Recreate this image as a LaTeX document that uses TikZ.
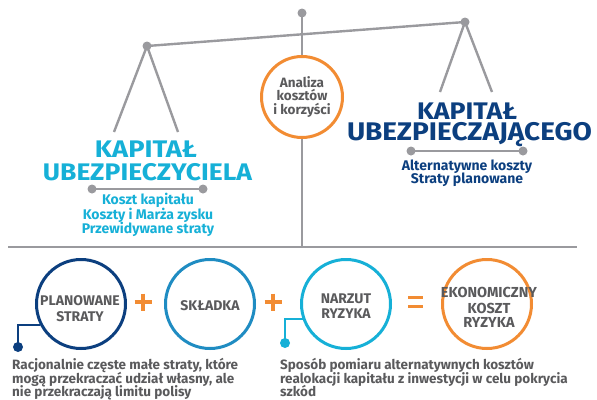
\documentclass[tikz,border=0pt]{standalone}
\usepackage{fontspec}
\setmainfont{Fira Sans}
\usepackage{graphicx}
\definecolor{lgray}{HTML}{9A9A9E}
\definecolor{tgray}{HTML}{5A5A5C}
\definecolor{orng}{HTML}{F28C33}
\definecolor{cyanb}{HTML}{16B0D7}
\definecolor{dblue}{HTML}{0C3F7F}
\definecolor{mblue}{HTML}{1F8CC2}
\begin{document}
\begin{tikzpicture}[x=1pt,y=-1pt,
  gl/.style={draw=lgray, line width=2.4pt},
  gdot/.style={circle, fill=lgray, inner sep=0pt, minimum size=9pt},
  ring/.style={circle, line width=3pt, fill=white, minimum size=89pt, inner sep=0pt},
  lbl/.style={inner sep=0pt, anchor=base, font=\bfseries\fontsize{13.5}{15}\selectfont, text=tgray},
  ctxt/.style={inner sep=0pt, anchor=base, font=\bfseries\fontsize{14}{16}\selectfont, text=tgray},
  sub/.style={inner sep=0pt, anchor=base, font=\bfseries\fontsize{14}{16}\selectfont},
  ttl/.style={inner sep=0pt, anchor=base, font=\bfseries\fontsize{24}{26}\selectfont},
  desc/.style={inner sep=0pt, anchor=base west, font=\bfseries\fontsize{13.5}{15}\selectfont, text=tgray},
  opl/.style={draw=orng, line width=3.5pt},
  conn/.style={line width=2.6pt},
  cdot/.style={circle, inner sep=0pt, minimum size=10pt}
]
\useasboundingbox (0,0) rectangle (597,399);

% balance
\coordinate (pivot) at (302,13);
\coordinate (sepC) at (302,247);
\coordinate (bl) at (147,46);
\coordinate (br) at (465,22);
\coordinate (pl1) at (114,132);
\coordinate (pl2) at (178,132);
\coordinate (pr1) at (440,92);
\coordinate (pr2) at (492,92);
\coordinate (sepL) at (8,247);
\coordinate (sepR) at (577,247);
\draw[draw=lgray, line width=1.4pt] (sepL) -- (sepR);
\draw[gl] (pivot) -- (sepC);
\draw[gl] (bl) -- (br);
\draw[gl] (pl1) -- (bl) -- (pl2);
\draw[gl] (pr1) -- (br) -- (pr2);
\node[gdot] (pd) at (pivot) {};
\node[gdot] (bld) at (bl) {};
\node[gdot] (brd) at (br) {};

% central circle
\node[ring, draw=orng, minimum size=81pt] (an) at (302,97) {};
\node[lbl] (an1) at (302,87) {Analiza};
\node[lbl] (an2) at (302,100.5) {kosztów};
\node[lbl] (an3) at (302,114) {i korzyści};

% left title
\node[ttl, text=cyanb, text depth=0pt] (lt1) at (146,157) {\resizebox{102pt}{\height}{KAPITAŁ}};
\node[ttl, text=cyanb] (lt2) at (147.5,180) {\resizebox{209pt}{\height}{UBEZPIECZYCIELA}};
\coordinate (lb1) at (92,189);
\coordinate (lb2) at (203,189);
\draw[gl] (lb1) -- (lb2);
\node[gdot] (lbd1) at (lb1) {};
\node[gdot] (lbd2) at (lb2) {};
\node[sub, text=cyanb] (ls1) at (148,204) {Koszt kapitału};
\node[sub, text=cyanb] (ls2) at (148,219) {Koszty i Marża zysku};
\node[sub, text=cyanb] (ls3) at (148,233) {Przewidywane straty};

% right title
\node[ttl, text=dblue, text depth=0pt] (rt1) at (467,119) {\resizebox{100pt}{\height}{KAPITAŁ}};
\node[ttl, text=dblue, font=\bfseries\fontsize{25.5}{27}\selectfont] (rt2) at (469.5,140) {\resizebox{245pt}{\height}{UBEZPIECZAJĄCEGO}};
\coordinate (rb1) at (411,151);
\coordinate (rb2) at (523,151);
\draw[gl] (rb1) -- (rb2);
\node[gdot] (rbd1) at (rb1) {};
\node[gdot] (rbd2) at (rb2) {};
\node[sub, text=dblue] (rs1) at (467,170) {Alternatywne koszty};
\node[sub, text=dblue] (rs2) at (467,183) {Straty planowane};

% bottom circles
\node[ring, draw=dblue] (c1) at (81,304) {};
\node[ring, draw=mblue] (c2) at (210,304) {};
\node[ring, draw=cyanb] (c3) at (346,304) {};
\node[ring, draw=orng] (c4) at (487,304) {};

\node[ctxt] (c1a) at (80,305) {PLANOWANE};
\node[ctxt] (c1b) at (80,321) {STRATY};
\node[ctxt] (c2a) at (210,310) {SKŁADKA};
\node[ctxt] (c3a) at (346,303) {NARZUT};
\node[ctxt] (c3b) at (346,318) {RYZYKA};
\node[ctxt, font=\bfseries\fontsize{14.5}{16}\selectfont] (c4a) at (489,297) {EKONOMICZNY};
\node[ctxt, font=\bfseries\fontsize{14.5}{16}\selectfont] (c4b) at (489,313) {KOSZT};
\node[ctxt, font=\bfseries\fontsize{14.5}{16}\selectfont] (c4c) at (489,327) {RYZYKA};

% operators
\draw[opl] (134.5,302) -- (151.5,302) (143,293.5) -- (143,310.5);
\draw[opl] (264.5,302) -- (281.5,302) (273,293.5) -- (273,310.5);
\draw[opl] (408,297.5) -- (423,297.5) (408,306.5) -- (423,306.5);

% connectors
\node[cdot, fill=dblue] (d1) at (18,347) {};
\draw[conn, draw=dblue] (d1.center) |- (c1.207);
\node[cdot, fill=cyanb] (d3) at (285,343) {};
\draw[conn, draw=cyanb] (d3.center) |- (c3.199);

% descriptions
\node[desc] (l1) at (12,369.5) {Racjonalnie częste małe straty, które};
\node[desc] (l2) at (12,383) {mogą przekraczać udział własny, ale};
\node[desc] (l3) at (12,396) {nie przekraczają limitu polisy};
\node[desc] (r1) at (280,369.5) {Sposób pomiaru alternatywnych kosztów};
\node[desc] (r2) at (280,383) {realokacji kapitału z inwestycji w celu pokrycia};
\node[desc] (r3) at (280,396) {szkód};
\end{tikzpicture}
\end{document}
